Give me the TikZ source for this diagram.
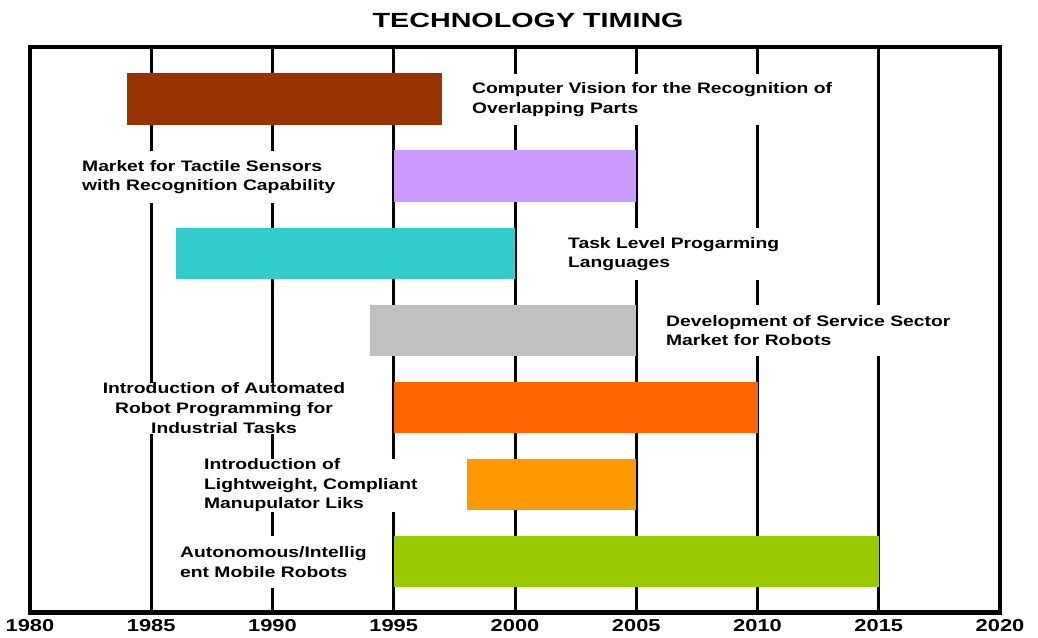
\documentclass[tikz,border=0pt]{standalone}
\usepackage{fontspec}
\setmainfont{Liberation Sans}[FakeStretch=1.27]
\newfontfamily\titlefont{Liberation Sans}[FakeStretch=1.4]
\usepackage{xcolor}
\usepackage{tikz}
\usetikzlibrary{calc}
\definecolor{visioncolor}{HTML}{993300}
\definecolor{tactilecolor}{HTML}{CC99FF}
\definecolor{taskcolor}{HTML}{33CCCC}
\definecolor{servicecolor}{HTML}{C0C0C0}
\definecolor{progcolor}{HTML}{FF6600}
\definecolor{lightcolor}{HTML}{FF9900}
\definecolor{mobilecolor}{HTML}{99CC00}
\tikzstyle{frame}=[line width=4.5pt]
\tikzstyle{yearline}=[line width=3pt]
\tikzstyle{tech}=[fill=white,inner xsep=3pt,inner ysep=0pt,minimum height=51.5pt,align=left,font=\bfseries\fontsize{15.2}{19.5}\selectfont]
\tikzstyle{year}=[anchor=base,font=\bfseries\fontsize{17.2}{20}\selectfont]
\begin{document}
\begin{tikzpicture}[x=24.25pt,y=-1pt]
	\useasboundingbox (-1.2371,0) rectangle (41.567,637);
	\node[anchor=base,font=\titlefont\bfseries\fontsize{20.5}{24}\selectfont] (title) at (20.54,27.3) {TECHNOLOGY TIMING};
	\foreach \i in {5,10,...,35}
		\draw[yearline] (\i,47) -- (\i,612.5);
	% bars, one row every 77.1
	\fill[visioncolor]  (4,73.3)  rectangle (17,124.8);
	\fill[tactilecolor] (15,150.4) rectangle (25,201.9);
	\fill[taskcolor]    (6,227.5)  rectangle (20,279);
	\fill[servicecolor] (14,304.6) rectangle (25,356.1);
	\fill[progcolor]    (15,381.7) rectangle (30,433.2);
	\fill[lightcolor]   (18,458.8) rectangle (25,510.3);
	\fill[mobilecolor]  (15,535.9) rectangle (35,587.4);
	% labels
	\node[tech,anchor=west] (vision) at (18.10,99.5) {Computer Vision for the Recognition of\\Overlapping Parts};
	\node[tech,anchor=west] (tactile) at (2.02,177) {Market for Tactile Sensors\\with Recognition Capability};
	\node[tech,anchor=west] (tasklevel) at (22.06,254) {Task Level Progarming\\Languages};
	\node[tech,anchor=west] (service) at (26.10,330.4) {Development of Service Sector\\Market for Robots};
	\node[tech,align=center,font=\bfseries\fontsize{15.2}{20}\selectfont] (autoprog) at (8.0,408.5) {Introduction of Automated\\Robot Programming for\\Industrial Tasks};
	\node[tech,anchor=west] (lightweight) at (7.05,485.5) {Introduction of\\Lightweight, Compliant\\Manupulator Liks};
	\node[tech,anchor=west] (mobile) at (6.06,562) {Autonomous/Intellig\\ent Mobile Robots};
	\draw[frame] (0,47) rectangle (40,612.5);
	\foreach \i in {0,5,...,40} {
		\pgfmathtruncatemacro\yr{1980+\i}
		\node[year] (y\yr) at (\i,631) {\yr};
	}
\end{tikzpicture}
\end{document}
